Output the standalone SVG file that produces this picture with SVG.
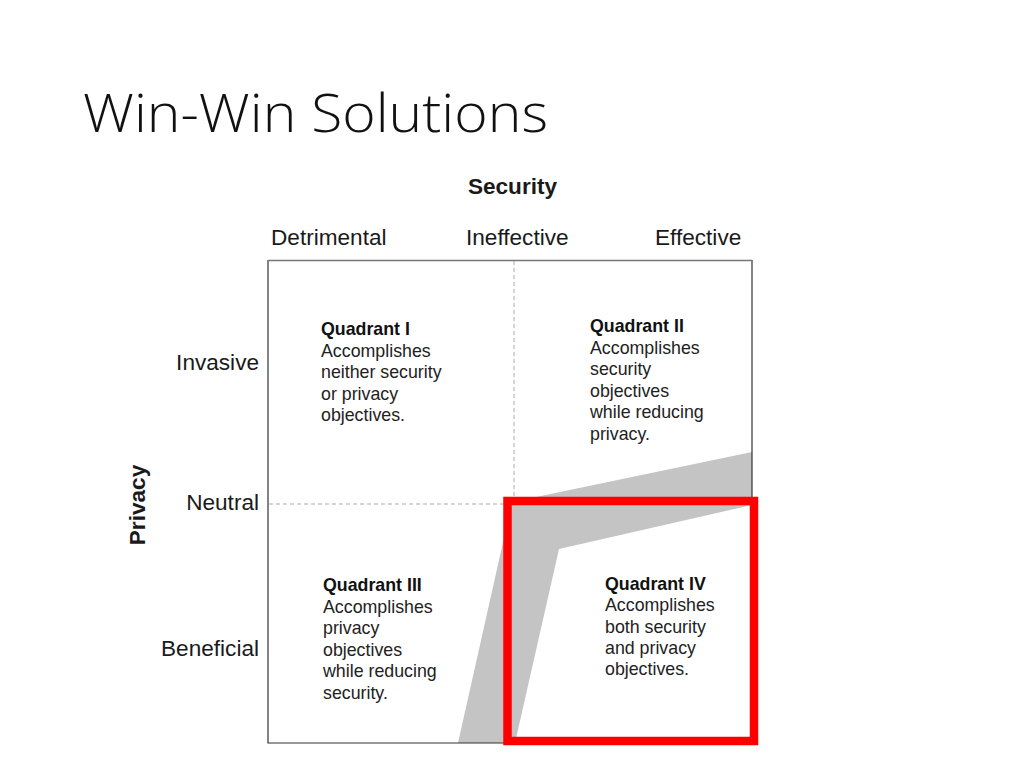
<svg xmlns="http://www.w3.org/2000/svg" width="1024" height="768" viewBox="0 0 1024 768">
<style>
.ax{font-family:"Liberation Sans",Arial,sans-serif;font-size:22.6px;fill:#1a1a1a}
.q{font-family:"Liberation Sans",Arial,sans-serif;font-size:17.8px;fill:#222}
.qb{font-weight:bold;fill:#111}
.dash{stroke:#aaa;stroke-width:1;stroke-dasharray:4 3;fill:none}
</style>
<rect width="1024" height="768" fill="#fff"/>
<text x="83" y="132" font-family="'Open Sans','Liberation Sans',sans-serif" font-weight="300" font-size="54" fill="#111" textLength="465" lengthAdjust="spacingAndGlyphs">Win-Win Solutions</text>
<g id="axes">
<text class="ax" x="512.5" y="194" text-anchor="middle" font-weight="bold" fill="#111">Security</text>
<text class="ax" x="271" y="245">Detrimental</text>
<text class="ax" x="466" y="245">Ineffective</text>
<text class="ax" x="655" y="245">Effective</text>
<text class="ax" x="259" y="370" text-anchor="end">Invasive</text>
<text class="ax" x="259" y="510" text-anchor="end">Neutral</text>
<text class="ax" x="259" y="656" text-anchor="end">Beneficial</text>
<text class="ax" x="0" y="0" text-anchor="middle" font-weight="bold" fill="#111" transform="translate(145,505) rotate(-90)">Privacy</text>
</g>
<g id="grid">
<line class="dash" x1="514" y1="261" x2="514" y2="503"/>
<line class="dash" x1="269" y1="504" x2="505" y2="504"/>
<polygon points="458,743 512,502 752,452 752,505 559,549 515,743" fill="#c4c4c4"/>
<path d="M268,743 V260.5 H752 V743 Z" fill="none" stroke="#333" stroke-width="1.2"/>
<line x1="268" y1="260.5" x2="752" y2="260.5" stroke="#777" stroke-width="1.5"/>
</g>
<g id="q1">
<text class="q" x="321" y="335"><tspan class="qb">Quadrant I</tspan><tspan x="321" dy="21.5">Accomplishes</tspan><tspan x="321" dy="21.5">neither security</tspan><tspan x="321" dy="21.5">or privacy</tspan><tspan x="321" dy="21.5">objectives.</tspan></text>
</g>
<g id="q2">
<text class="q" x="590" y="332"><tspan class="qb">Quadrant II</tspan><tspan x="590" dy="21.5">Accomplishes</tspan><tspan x="590" dy="21.5">security</tspan><tspan x="590" dy="21.5">objectives</tspan><tspan x="590" dy="21.5">while reducing</tspan><tspan x="590" dy="21.5">privacy.</tspan></text>
</g>
<g id="q3">
<text class="q" x="323" y="591"><tspan class="qb">Quadrant III</tspan><tspan x="323" dy="21.5">Accomplishes</tspan><tspan x="323" dy="21.5">privacy</tspan><tspan x="323" dy="21.5">objectives</tspan><tspan x="323" dy="21.5">while reducing</tspan><tspan x="323" dy="21.5">security.</tspan></text>
</g>
<g id="q4">
<text class="q" x="605" y="590"><tspan class="qb">Quadrant IV</tspan><tspan x="605" dy="21.3">Accomplishes</tspan><tspan x="605" dy="21.3">both security</tspan><tspan x="605" dy="21.3">and privacy</tspan><tspan x="605" dy="21.3">objectives.</tspan></text>
</g>
<g id="highlight">
<rect x="507.5" y="501" width="246.5" height="240" fill="none" stroke="#ff0000" stroke-width="8.5"/>
</g>
</svg>
